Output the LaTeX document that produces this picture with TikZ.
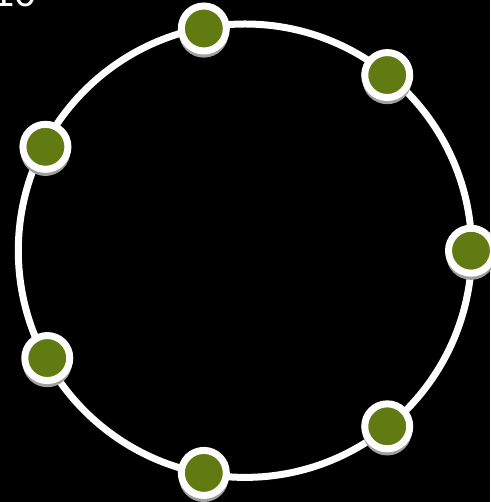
\documentclass[tikz,border=0pt]{standalone}
\usepackage{fontspec}
\setmainfont{Liberation Sans}
\usetikzlibrary{shadows}
\definecolor{nodegreen}{RGB}{97,122,18}
\begin{document}
\begin{tikzpicture}[x=1pt,y=1pt]
  \tikzstyle{ringnode}=[circle,
                        fill=nodegreen,
                        draw=white,
                        line width=7pt,
                        minimum size=45pt,
                        inner sep=0pt,
                        general shadow={fill=gray!75,shadow yshift=-4pt,shadow scale=1.1}]
  \tikzstyle{ring}=[draw=white,line width=7pt]
  \tikzstyle{texto}=[text=white,font=\fontsize{40}{40}\selectfont,anchor=base west]
  %Fondo
  \fill[black] (0,0) rectangle (490,502);
  \useasboundingbox (0,0) rectangle (490,502);
  \coordinate (c) at (245,251.3);
  \draw[ring] (c) circle (226.7pt);
  %Nodos
  \node[ringnode] (n0) at ([shift={(0:226)}]c) {};
  \node[ringnode] (n1) at ([shift={(51:226)}]c) {};
  \node[ringnode] (n2) at ([shift={(100.5:226)}]c) {};
  \node[ringnode] (n3) at ([shift={(152.5:225)}]c) {};
  \node[ringnode] (n4) at ([shift={(208.5:225)}]c) {};
  \node[ringnode] (n5) at ([shift={(259.5:226)}]c) {};
  \node[ringnode] (n6) at ([shift={(309:226)}]c) {};
  %Texto
  \node[texto] (num) at (-11,495) {10};
\end{tikzpicture}
\end{document}
